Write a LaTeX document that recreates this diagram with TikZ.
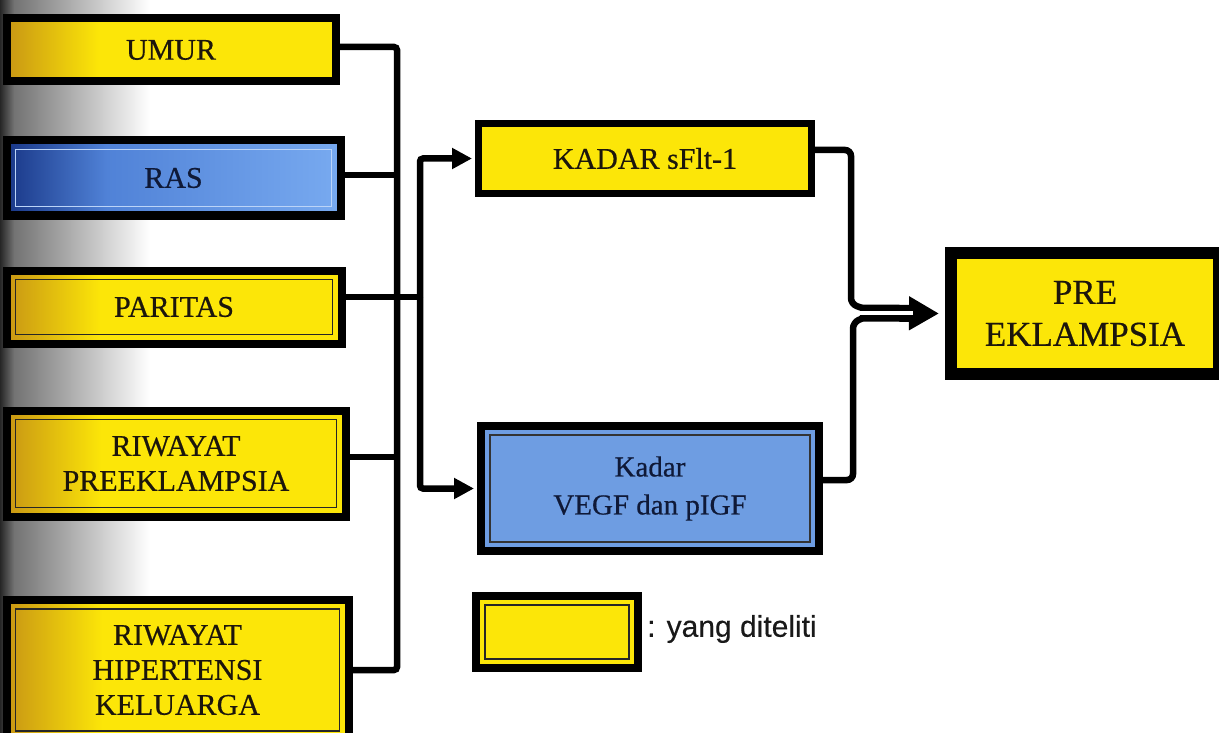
\documentclass[tikz,border=0pt]{standalone}
\usepackage{fontspec}
\setmainfont{Liberation Serif}
\newfontfamily\hvserif{Liberation Serif}[FakeBold=0.5]
\newfontfamily\arialf{Liberation Sans}[FakeBold=0.3]
\usetikzlibrary{arrows.meta,calc}
\definecolor{ybox}{RGB}{252,230,8}
\definecolor{ydark}{RGB}{200,150,20}
\definecolor{bbox}{RGB}{110,157,226}
\definecolor{bnavy}{RGB}{25,55,135}
\definecolor{bmid}{RGB}{80,130,215}
\definecolor{blight}{RGB}{120,170,240}
\definecolor{txt}{RGB}{28,22,12}
\definecolor{btxt}{RGB}{15,25,55}
\pgfdeclarehorizontalshading{yfade}{100bp}{color(0bp)=(ydark); color(25bp)=(ydark); color(39bp)=(ybox); color(100bp)=(ybox)}
\pgfdeclarehorizontalshading{bfade}{100bp}{color(0bp)=(bnavy); color(25bp)=(bnavy); color(40bp)=(bmid); color(75bp)=(blight); color(100bp)=(blight)}
\begin{document}
\begin{tikzpicture}[x=1pt,y=-1pt,
  box/.style={draw=black, line width=8pt, inner sep=0pt, align=center,
    font=\hvserif\fontsize{30}{35}\selectfont, text=txt},
  innerline/.style={path picture={\draw[line width=1.6pt, #1]
      ([shift={(9pt,9pt)}]path picture bounding box.south west) rectangle
      ([shift={(-9pt,-9pt)}]path picture bounding box.north east);}},
  yshade/.style={box, shade, shading=yfade},
  yinner/.style={box, shade, shading=yfade, innerline=black!85},
  yplain/.style={box, fill=ybox},
  yplaininner/.style={box, fill=ybox, innerline=black!85},
  conn/.style={line width=6.5pt, black, rounded corners=3pt},
  arr/.style={conn, -{Triangle[length=20pt,width=20pt]}, shorten >=3pt},
]
\useasboundingbox (0,0) rectangle (1219,733);
\fill[white] (0,0) rectangle (1219,733);
% scan shadow at left edge
\shade[left color=black!85, right color=black!55] (0,0) rectangle (14,733);
\shade[left color=black!55, right color=white] (14,0) rectangle (150,733);

% left boxes
\node[yshade, minimum width=329pt, minimum height=63pt] (umur) at (171,50) {UMUR};
\node[box, shade, shading=bfade, text=btxt, minimum width=334pt, minimum height=75pt,
      innerline=blight!50!white] (ras) at (173.5,178) {RAS};
\node[yinner, minimum width=335pt, minimum height=73pt] (par) at (174,307) {PARITAS};
\node[yinner, minimum width=339pt, minimum height=106pt] (prek) at (176,463.5) {RIWAYAT\\PREEKLAMPSIA};
\node[yinner, minimum width=342pt, minimum height=140pt] (kel) at (177.5,670) {RIWAYAT\\HIPERTENSI\\KELUARGA};

% middle boxes
\node[yplain, line width=7pt, minimum width=333pt, minimum height=70pt] (sflt) at (645,158.5) {KADAR sFlt-1};
\node[box, fill=bbox, text=btxt, minimum width=338pt, minimum height=125pt,
      font=\hvserif\fontsize{29}{38}\selectfont, innerline=black!80] (vegf) at (650,488.5) {Kadar\\VEGF dan pIGF};

% outcome box
\node[yplain, line width=12pt, minimum width=268pt, minimum height=121pt,
      font=\hvserif\fontsize{35}{42}\selectfont] (pre) at (1085,313.5) {PRE\\EKLAMPSIA};

% legend
\node[yplaininner, minimum width=162pt, minimum height=72pt] (leg) at (557,632) {};
\node[anchor=west, inner sep=0pt, font=\arialf\fontsize{30}{32}\selectfont, text=black!90] (legt)
  at (647,629) {: yang diteliti};

% connectors on the left
\coordinate (bb) at (397,670);
\coordinate (split) at (420,297);
\draw[conn] ([yshift=3pt]umur.east) -| (bb) -- (bb -| kel.east);
\draw[conn] ([yshift=3pt]ras.east) -- ([yshift=3pt]ras.east -| bb);
\draw[conn] ([yshift=6.5pt]prek.east) -- ([yshift=6.5pt]prek.east -| bb);
\draw[conn] ([yshift=10pt]par.east) -- (split);
\draw[arr] (split) |- (sflt.west);
\draw[arr] (split) |- (vegf.west);

% connectors on the right
\coordinate (mgu) at (862,308);
\coordinate (mgl) at (862,318.5);
\coordinate (mg) at (860,313);
\coordinate (ht) at (913,313);
\draw[conn, rounded corners=6pt] ([yshift=8.5pt]sflt.east) -| ($(mgu)+(-11,-4)$) -- (mgu);
\draw[conn, rounded corners=6pt] ([yshift=8.5pt]vegf.east) -| ($(mgl)+(-9,4)$) -- (mgl);
\draw[line width=17pt, -{Triangle[length=30pt,width=32pt]}] (mg) -- ([xshift=-6pt]pre.west);
\draw[white, line width=3.5pt] ($(mg)+(-5,0)$) -- (ht);
\end{tikzpicture}
\end{document}
